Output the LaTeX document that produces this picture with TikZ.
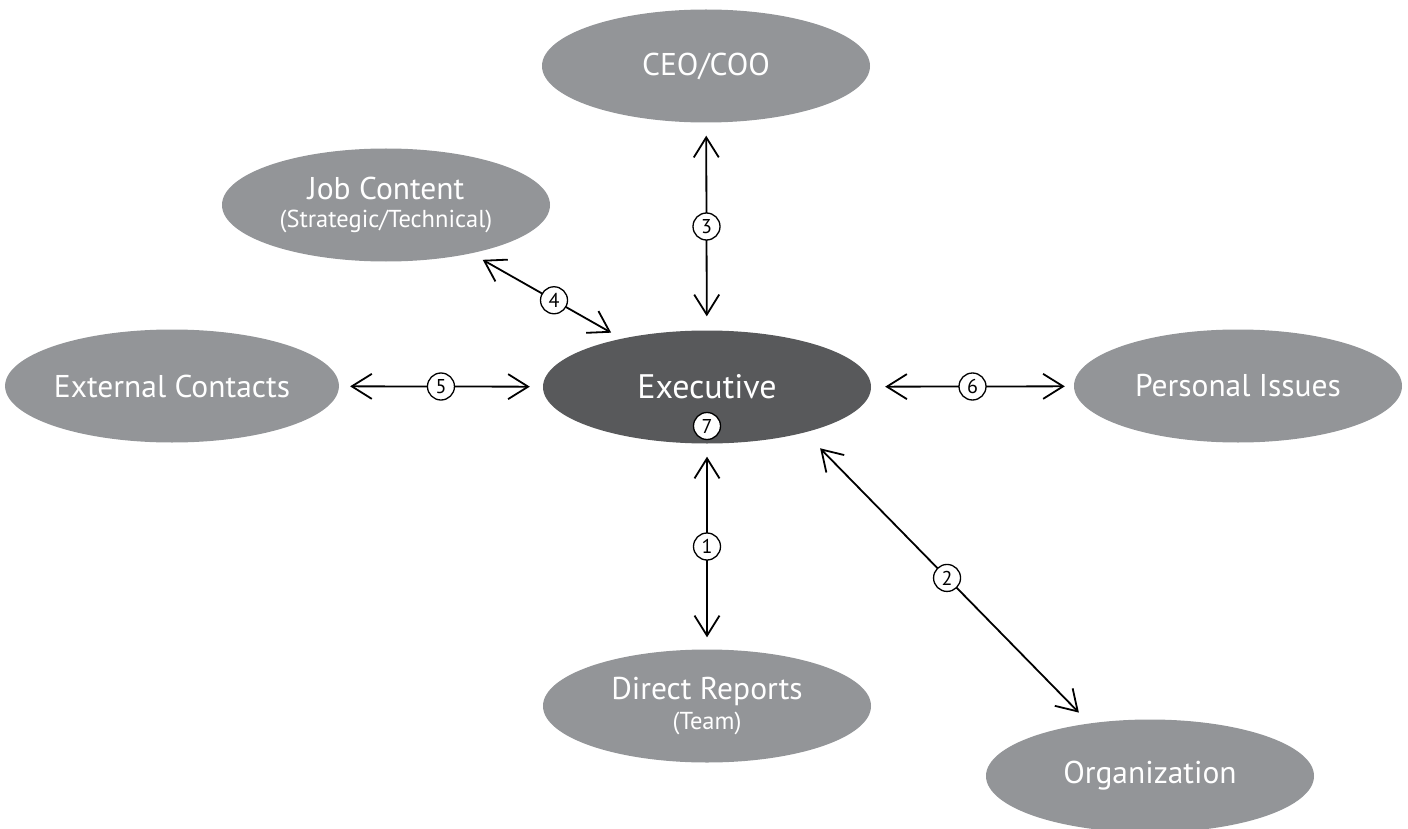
\documentclass[tikz,border=0pt]{standalone}
\usepackage{fontspec}
\setmainfont{PT Sans}
\usetikzlibrary{shapes.geometric,arrows.meta}
\definecolor{ellgray}{HTML}{939598}
\definecolor{execgray}{HTML}{58595B}
\begin{document}
\begin{tikzpicture}[x=1pt,y=-1pt,
  ell/.style={ellipse, fill=ellgray, minimum width=328pt, minimum height=113pt,
    inner sep=0pt, text=white, align=center, font=\fontsize{31.5}{34}\selectfont},
  conn/.style={line width=1.8pt,
    {Straight Barb[length=20pt,width=25pt]}-{Straight Barb[length=20pt,width=25pt]}},
  num/.style={circle, draw, line width=1.3pt, fill=white, minimum size=27pt,
    inner sep=0pt, font=\fontsize{20}{20}\selectfont}]
\useasboundingbox (0,0) rectangle (1408,829);

\node[ell] (ceo) at (706,66) {CEO/COO};
\node[ell] (job) at (386,205) {Job Content\\[-6pt]{\fontsize{24.5}{26}\selectfont (Strategic/Technical)}};
\node[ell] (ext) at (172,386) {External Contacts};
\node[ell, fill=execgray, font=\fontsize{34}{38}\selectfont] (exec) at (707,387) {Executive};
\node[ell] (pers) at (1238,386) {Personal Issues};
\node[ell] (dir) at (707,706) {Direct Reports\\[-4pt]{\fontsize{24.5}{26}\selectfont (Team)}};
\node[ell] (org) at (1150,776) {Organization};

\node[num] (n7) at ([yshift=-39pt]exec.center) {7};

\draw[conn, shorten <=13pt, shorten >=14pt] (ceo) -- node[num] (n3) {3} (exec);
\draw[conn, shorten <=13pt, shorten >=12pt] (job) -- node[num, pos=0.55] (n4) {4} (exec);
\draw[conn, shorten <=11pt, shorten >=13pt] (ext) -- node[num] (n5) {5} (exec);
\draw[conn, shorten <=14pt, shorten >=9pt] (exec) -- node[num] (n6) {6} (pers);
\draw[conn, shorten <=13pt, shorten >=12pt] (exec) -- node[num] (n1) {1} (dir);
\draw[conn, shorten <=22pt, shorten >=15pt] (exec.-25.5) -- node[num] (n2) {2} (org.139);
\end{tikzpicture}
\end{document}
